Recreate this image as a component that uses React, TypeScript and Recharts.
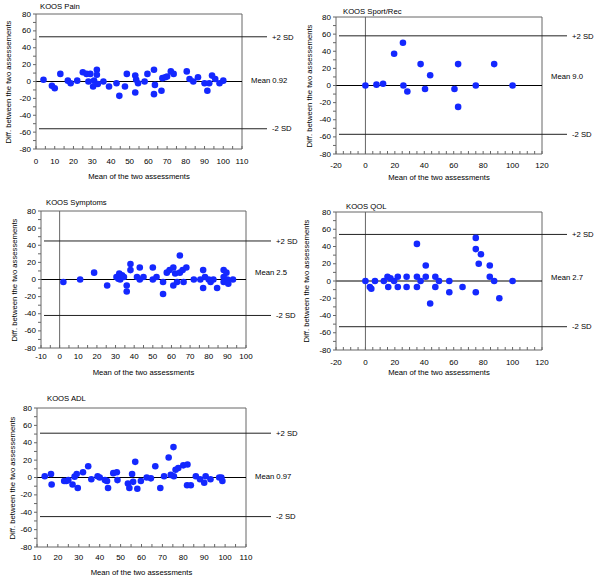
import React from 'react';
import { ScatterChart, Scatter, XAxis, YAxis, ReferenceLine, ReferenceDot } from 'recharts';

const FONT = '"Liberation Sans", Arial, sans-serif';
const DOT = '#1428ff';
const AXIS = '#666';
const LINE = '#222';
const TXT = 7.7;

const yTicks = [-80, -70, -60, -50, -40, -30, -20, -10, 0, 10, 20, 30, 40, 50, 60, 70, 80];

// KOOS Pain
const painMean = [4, 8.5, 10, 13, 17, 18.5, 22, 25, 27, 28, 29, 30.5, 31, 32.5, 32.5, 33, 36, 39, 43, 44.5, 47.5, 48.5, 53, 53, 53.5, 54.5, 58, 59.5, 63, 63, 63.5, 67, 67.5, 69, 70, 72, 73.5, 80.5, 82, 84, 86.5, 90, 91.5, 92.5, 94, 95.7, 98, 100];
const painDiff = [2, -5, -8, 9, 1, -2, 1, 11, 9, 0, 9, -6, 1, 14, 8, -3, 0, -6, -2, -17, -6, 9, 7, -13, 2, -2, 0, 9, 14, -15, -4, -11, 4, 5, 6, 12, 9, 12, 3, 0, 5, -2, -11, -2, 7, 3, -2, 1];
const painTicks = [0, 10, 20, 30, 40, 50, 60, 70, 80, 90, 100, 110];

// KOOS Sport/Rec
const sportMean = [0, 7.5, 12, 19.5, 25.5, 25.8, 28.5, 37.5, 40.5, 44, 60.5, 63, 63, 75, 87.5, 100];
const sportDiff = [0, 1, 2, 37, 50, 0, -7, 25, -4, 12, -4, 25, -25, 0, 25, 0];
const sportTicks = [-20, 0, 20, 40, 60, 80, 100, 120];

// KOOS Symptoms
const sympMean = [2, 11, 18.5, 25.5, 30.5, 31.5, 32, 32.5, 33.5, 34.5, 36, 36, 38, 38, 41.5, 43, 43, 45, 50, 50, 52, 55.5, 55.5, 57.5, 59, 61, 61, 62, 63, 64.5, 64.5, 66, 66.5, 68, 72, 75.5, 77, 77, 78, 80, 81, 82.5, 84.5, 88, 88, 88, 89.5, 90, 90.5, 93];
const sympDiff = [-3, 0, 8, -7, 3, 1, 7, 0, 5, 3, -7, -14, 18, 11, 3, 14, 0, 3, 14, 0, 3, -3, -17, 8, 11, 14, -7, 7, -3, 28, 8, 11, -3, 14, 0, 0, 11, -10, 3, 0, -3, 0, -10, 11, 3, -3, 8, 0, -5, 0];
const sympTicks = [-10, 0, 10, 20, 30, 40, 50, 60, 70, 80, 90, 100];

// KOOS QOL
const qolMean = [0, 3, 4, 6.5, 12.5, 15, 15.5, 17, 19.5, 22, 22, 28, 28, 35, 35, 35, 37.5, 41, 41, 44, 47.5, 47.5, 50, 57, 57, 66, 75, 75, 75, 77, 78.5, 84.5, 84.5, 87.5, 91, 100];
const qolDiff = [0, -7, -9, 0, 0, 5, -7, 3, 0, 5, -7, 5, -7, 43, 5, -7, 0, 18, 5, -26, 5, -7, 0, 0, -13, -7, 50, 37, -13, 20, 31, 18, 5, 0, -20, 0];
const qolTicks = [-20, 0, 20, 40, 60, 80, 100, 120];

// KOOS ADL
const adlMean = [13.7, 16.7, 17, 23, 24, 25, 27, 28, 29, 29.5, 32, 34.5, 36, 39, 40, 42.5, 43.5, 44, 46.5, 48.2, 48.5, 53.5, 54.2, 55.5, 56, 57, 58, 59.7, 62.5, 64.5, 66.6, 69, 70.8, 73, 74, 75.3, 75.5, 76.3, 77.6, 80, 82, 81.8, 83.6, 86, 88, 90, 90.7, 93, 97.2, 98.2, 98.7];
const adlDiff = [1.5, 4, -8, -4, -4, -3, -8, 1, 4, -12, 6, 13, -2, 1.5, 0, -3, -4, -12, 5, 6, -3, -7, -12, 4, -5, 18, -13, -4, 0, -1, 13, -12, 1.5, 23, 3, 35, 1.5, 9, 11, 14, 15, -9, -9, 1.5, -2, -6, 1.5, -2, 0, 0, -4];
const adlTicks = [10, 20, 30, 40, 50, 60, 70, 80, 90, 100, 110];

function YTick(p: any) {
  const v = p.payload.value;
  if (v % 20 !== 0) return <g />;
  return (
    <text x={p.x} y={p.y} textAnchor="end" dominantBaseline="central" fontSize={8} fill="#000">
      {v}
    </text>
  );
}

interface PanelProps {
  title: string;
  xs: number[];
  ys: number[];
  majors: number[];
  box: { x: number; y: number; w: number; h: number };
  plot: { l: number; t: number; r: number; b: number };
  upper: number;
  lower: number;
  meanText: string;
  meanAt: number;
  titleAt: [number, number];
  yLabelX: number;
  tickOff: number;
  xLabelY: number;
}

function Panel({ title, xs, ys, majors, box, plot, upper, lower, meanText, meanAt, titleAt, yLabelX, tickOff, xLabelY }: PanelProps) {
  const data = xs.map((x, i) => ({ x, y: ys[i] }));
  const xmin = majors[0];
  const xmax = majors[majors.length - 1];
  const perPx = (xmax - xmin) / (plot.r - plot.l);
  const xTicks: number[] = [];
  for (let v = xmin; v <= xmax; v += 5) xTicks.push(v);

  const XTick = (p: any) => {
    const v = p.payload.value;
    return (
      <g>
        <line x1={p.x} x2={p.x} y1={p.y} y2={p.y - 3} stroke={AXIS} />
        {majors.includes(v) && (
          <text x={p.x} y={p.y + tickOff} textAnchor="middle" dominantBaseline="central" fontSize={8} fill="#000">
            {v}
          </text>
        )}
      </g>
    );
  };

  const lbl = { position: 'right' as const, fontSize: TXT, fill: '#000' };

  return (
    <>
      <div style={{ position: 'absolute', left: titleAt[0], top: titleAt[1] - 5, fontSize: TXT, lineHeight: '10px', whiteSpace: 'nowrap' }}>
        {title}
      </div>
      <div
        style={{
          position: 'absolute',
          left: yLabelX,
          top: (plot.t + plot.b) / 2,
          transform: 'translate(-50%, -50%) rotate(-90deg)',
          fontSize: TXT,
          lineHeight: '10px',
          whiteSpace: 'nowrap',
        }}
      >
        Diff. between the two assessements
      </div>
      <div
        style={{
          position: 'absolute',
          left: (plot.l + plot.r) / 2,
          top: xLabelY,
          transform: 'translate(-50%, -50%)',
          fontSize: TXT,
          lineHeight: '10px',
          whiteSpace: 'nowrap',
        }}
      >
        Mean of the two assessments
      </div>
      <div style={{ position: 'absolute', left: box.x, top: box.y }}>
        <ScatterChart
          width={box.w}
          height={box.h}
          margin={{ top: plot.t - box.y, right: box.x + box.w - plot.r, bottom: 0, left: 0 }}
        >
          <XAxis
            type="number"
            dataKey="x"
            domain={[xmin, xmax]}
            ticks={xTicks}
            interval={0}
            height={box.y + box.h - plot.b}
            tickSize={0}
            tickMargin={0}
            tickLine={false}
            axisLine={{ stroke: AXIS }}
            tick={XTick}
          />
          <YAxis
            type="number"
            dataKey="y"
            domain={[-80, 80]}
            ticks={yTicks}
            interval={0}
            width={plot.l - box.x}
            tickSize={3}
            tickMargin={2}
            tickLine={{ stroke: AXIS }}
            axisLine={{ stroke: AXIS }}
            tick={YTick}
          />
          <ReferenceLine y={80} stroke={AXIS} />
          <ReferenceLine x={xmax} stroke={AXIS} />
          {xmin < 0 && <ReferenceLine x={0} stroke={AXIS} />}
          <ReferenceLine y={0} stroke="#000" />
          <ReferenceLine
            segment={[{ x: xmin + 3 * perPx, y: upper }, { x: xmax + 25 * perPx, y: upper }]}
            ifOverflow="visible"
            stroke={LINE}
            label={{ ...lbl, value: '+2 SD', offset: 5 }}
          />
          <ReferenceLine
            segment={[{ x: xmin + 3 * perPx, y: lower }, { x: xmax + 25 * perPx, y: lower }]}
            ifOverflow="visible"
            stroke={LINE}
            label={{ ...lbl, value: '-2 SD', offset: 5 }}
          />
          <ReferenceDot
            x={xmax}
            y={meanAt}
            r={0}
            fill="none"
            stroke="none"
            ifOverflow="visible"
            label={{ ...lbl, value: meanText, offset: 9 }}
          />
          <Scatter
            data={data}
            isAnimationActive={false}
            shape={(p: any) => <circle cx={p.cx} cy={p.cy} r={3.3} fill={DOT} />}
          />
        </ScatterChart>
      </div>
    </>
  );
}

export default function App() {
  return (
    <div style={{ position: 'absolute', left: 0, top: 0, width: 600, height: 584, background: '#fff', fontFamily: FONT, color: '#000' }}>
      <Panel
        title="KOOS Pain"
        xs={painMean}
        ys={painDiff}
        majors={painTicks}
        box={{ x: 0, y: 0, w: 300, h: 190 }}
        plot={{ l: 36, t: 14, r: 242, b: 149 }}
        upper={53}
        lower={-56}
        meanText="Mean 0.92"
        meanAt={1}
        titleAt={[40, 7]}
        yLabelX={9}
        tickOff={12}
        xLabelY={177}
      />
      <Panel
        title="KOOS Sport/Rec"
        xs={sportMean}
        ys={sportDiff}
        majors={sportTicks}
        box={{ x: 300, y: 0, w: 300, h: 190 }}
        plot={{ l: 336, t: 17, r: 542, b: 154 }}
        upper={58}
        lower={-57}
        meanText="Mean 9.0"
        meanAt={11}
        titleAt={[343, 12]}
        yLabelX={310}
        tickOff={11}
        xLabelY={178}
      />
      <Panel
        title="KOOS Symptoms"
        xs={sympMean}
        ys={sympDiff}
        majors={sympTicks}
        box={{ x: 0, y: 190, w: 300, h: 194 }}
        plot={{ l: 41, t: 211, r: 246, b: 348 }}
        upper={45}
        lower={-42}
        meanText="Mean 2.5"
        meanAt={9}
        titleAt={[46, 203]}
        yLabelX={15}
        tickOff={8}
        xLabelY={373}
      />
      <Panel
        title="KOOS QOL"
        xs={qolMean}
        ys={qolDiff}
        majors={qolTicks}
        box={{ x: 300, y: 190, w: 300, h: 194 }}
        plot={{ l: 336, t: 212, r: 542, b: 350 }}
        upper={54}
        lower={-53}
        meanText="Mean 2.7"
        meanAt={4}
        titleAt={[346, 207]}
        yLabelX={307}
        tickOff={12}
        xLabelY={373}
      />
      <Panel
        title="KOOS ADL"
        xs={adlMean}
        ys={adlDiff}
        majors={adlTicks}
        box={{ x: 0, y: 380, w: 300, h: 204 }}
        plot={{ l: 37, t: 408, r: 246, b: 547 }}
        upper={51}
        lower={-45}
        meanText="Mean 0.97"
        meanAt={1}
        titleAt={[47, 399]}
        yLabelX={13}
        tickOff={10}
        xLabelY={573}
      />
    </div>
  );
}
